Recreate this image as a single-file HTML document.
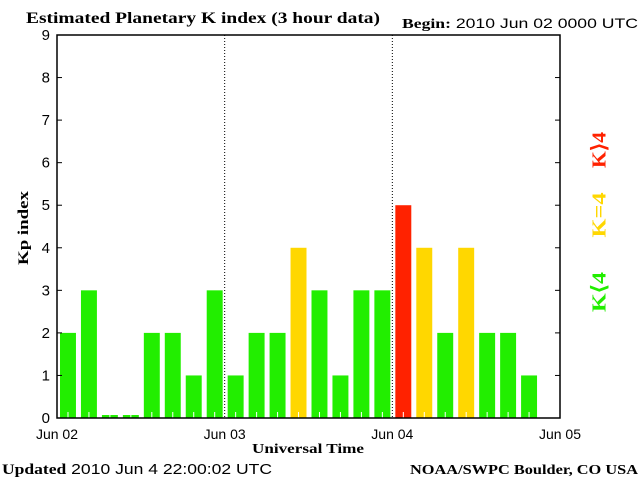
<!DOCTYPE html>
<html><head><meta charset="utf-8"><style>
body{margin:0;background:#fff;width:640px;height:480px;overflow:hidden}
svg text{font-family:"Liberation Sans",sans-serif}
.s{font-family:"Liberation Serif",serif;font-weight:bold}
</style></head><body>
<svg id="c" width="640" height="480">
<text class="s" x="26" y="23" font-size="16" textLength="354" lengthAdjust="spacingAndGlyphs">Estimated Planetary K index (3 hour data)</text>
<text x="402" y="28" font-size="14" textLength="236" lengthAdjust="spacingAndGlyphs"><tspan class="s">Begin:</tspan>  2010 Jun 02 0000 UTC</text>
<text class="s" x="28" y="228" font-size="15" transform="rotate(-90 28 228)" text-anchor="middle" textLength="74" lengthAdjust="spacingAndGlyphs">Kp index</text>
<text class="s" x="308" y="453" font-size="14" text-anchor="middle" textLength="112" lengthAdjust="spacingAndGlyphs">Universal Time</text>
<text x="2" y="474" font-size="15" textLength="270" lengthAdjust="spacingAndGlyphs"><tspan class="s">Updated</tspan> 2010 Jun  4 22:00:02 UTC</text>
<text class="s" x="410" y="474" font-size="14" textLength="228" lengthAdjust="spacingAndGlyphs">NOAA/SWPC Boulder, CO USA</text>
<text class="s" x="601" y="292" font-size="20" fill="#22ee00" transform="rotate(-90 601 292)" text-anchor="middle" dominant-baseline="middle" textLength="40" lengthAdjust="spacingAndGlyphs">K⟨4</text>
<text class="s" x="601" y="215" font-size="20" fill="#ffd700" transform="rotate(-90 601 215)" text-anchor="middle" dominant-baseline="middle" textLength="45" lengthAdjust="spacingAndGlyphs">K=4</text>
<text class="s" x="601" y="150" font-size="20" fill="#ff2200" transform="rotate(-90 601 150)" text-anchor="middle" dominant-baseline="middle" textLength="36" lengthAdjust="spacingAndGlyphs">K⟩4</text>
<g id="plot"></g>
</svg>
<script>
const kpValues=[2,3,0,0,2,2,1,3,1,2,2,4,3,1,3,3,5,4,2,4,2,2,1];
const yTicks=[0,1,2,3,4,5,6,7,8,9];
const dayLabels=["Jun 02","Jun 03","Jun 04","Jun 05"];
const L=57,R=560,T=35,B=418;
const slot=(R-L)/24;
const ys=v=>B-(B-T)*v/9;
const xs=i=>L+i*slot;
const g=document.getElementById('plot');
const NS='http://www.w3.org/2000/svg';
function mk(t,a){const e=document.createElementNS(NS,t);for(const k in a)e.setAttribute(k,a[k]);g.appendChild(e);return e;}
kpValues.forEach((v,i)=>{
  const col=v>4?'#ff2200':v===4?'#ffd700':'#22ee00';
  const top=v===0?B-3:ys(v);
  const r=mk('rect',{x:xs(i)+3,y:top,width:slot-5,height:B-top,fill:col});
  
  
  const w=mk('line',{x1:xs(i)+3+(slot-5)/2,x2:xs(i)+3+(slot-5)/2,y1:B-6,y2:B,stroke:'#fff'});
  
  
});
[1,2].forEach(d=>{
  const l=mk('line',{x1:xs(d*8),x2:xs(d*8),y1:T,y2:B,stroke:'#000','stroke-dasharray':'1,2'});
  
  
});
const fr=mk('rect',{x:L,y:T,width:R-L,height:B-T,fill:'none',stroke:'#000','stroke-width':1.5});


yTicks.forEach(v=>{
  const y=ys(v);
  mk('line',{x1:L,x2:L+5,y1:y,y2:y,stroke:'#000'});
  mk('line',{x1:R-5,x2:R,y1:y,y2:y,stroke:'#000'});
  const t=mk('text',{x:50,y:y+5,'font-size':15,'text-anchor':'end'});
  t.textContent=v;
  
  
});
dayLabels.forEach((s,d)=>{
  const t=mk('text',{x:xs(d*8),y:439,'font-size':14,'text-anchor':'middle'});
  t.textContent=s;
  
  
});
</script>
</body></html>
